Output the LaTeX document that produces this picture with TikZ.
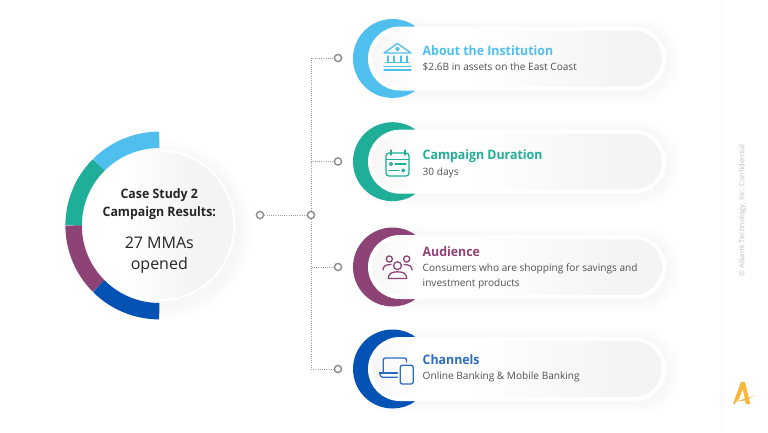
\documentclass[tikz,border=0pt]{standalone}
\usepackage{fontspec}
\setmainfont[BoldFeatures={FakeStretch=0.95}]{Open Sans}
\usetikzlibrary{calc}
\definecolor{cblue}{HTML}{4FC0EE}
\definecolor{cgreen}{HTML}{1FAE97}
\definecolor{cpurple}{HTML}{8E4377}
\definecolor{cnavy}{HTML}{0552B5}
\definecolor{cbody}{HTML}{505050}
\definecolor{cdark}{HTML}{262626}
\definecolor{cpin}{HTML}{8C8C8C}
\definecolor{clogo}{HTML}{F9B43C}
\pgfdeclarehorizontalshading{pillfade}{100bp}{
  color(0bp)=(black!3);
  color(26bp)=(black!3);
  color(33bp)=(white);
  color(42bp)=(white);
  color(68bp)=(black!4.5);
  color(100bp)=(black!4.5)}
\pgfdeclarehorizontalshading{discfade}{100bp}{
  color(0bp)=(white);
  color(38bp)=(white);
  color(62bp)=(black!4.5);
  color(100bp)=(black!4.5)}
\tikzset{
  x=1pt,y=-1pt,
  pin/.style={circle,draw=cpin,fill=white,line width=1.4pt,minimum size=7.2pt,inner sep=0pt},
  dotline/.style={draw=black!38,line width=0.9pt,dash pattern=on 0.9pt off 1.3pt},
  pill/.style={draw=white,line width=4pt,rounded corners=30pt,shading=pillfade,minimum width=294pt,minimum height=60pt,inner sep=0pt},
  titletext/.style={anchor=base west,inner sep=0pt,font=\fontsize{13}{15}\selectfont\bfseries},
  bodytext/.style={anchor=base west,inner sep=0pt,text=cbody,font=\fontsize{10.1}{12}\selectfont},
  disctitle/.style={inner sep=0pt,anchor=base,text=cdark,font=\fontsize{13}{15}\selectfont\bfseries},
  discbody/.style={inner sep=0pt,anchor=base,text=cdark,font=\fontsize{16}{19}\selectfont},
  icon/.style={line width=1.3pt,line cap=round,line join=round}
}
\newcommand{\cardback}[3]{% name, centre y, colour
  \foreach \g in {1,...,7}{
    \fill[black,opacity=0.005,rounded corners=36pt]
      (364-\g*1.4,#2-32-\g*1.2) rectangle (670+\g*1.4,#2+36+\g*1.2);
  }
  \fill[#3] (392.5,#2) ++(56:39.5pt) arc[start angle=56,end angle=304,radius=39.5pt] -- cycle;
  \node[pill] (#1) at (517,#2) {};
}
\begin{document}
\begin{tikzpicture}
\useasboundingbox (0,0) rectangle (768,432);
\fill[white] (0,0) rectangle (768,432);
\draw[black!4,line width=1pt] (721,0) -- (721,432);

% disc with ring
\coordinate (C) at (159.3,225.5);
\foreach \g in {1,...,8}{
  \fill[black,opacity=0.005] (163,230) circle[radius={76pt+\g*1.8pt}];
}
\draw[cblue,line width=16.4pt]  (C) ++(90:85.7pt)  arc[start angle=90,end angle=135,radius=85.7pt];
\draw[cgreen,line width=16.4pt] (C) ++(135:85.7pt) arc[start angle=135,end angle=180,radius=85.7pt];
\draw[cpurple,line width=16.4pt](C) ++(180:85.7pt) arc[start angle=180,end angle=225,radius=85.7pt];
\draw[cnavy,line width=16.4pt]  (C) ++(225:85.7pt) arc[start angle=225,end angle=270,radius=85.7pt];
\node[circle,draw=white,line width=2pt,shading=discfade,minimum size=150pt,inner sep=0pt] (disc) at (C) {};
\node[disctitle] (dt1) at (159.3,198) {Case Study 2};
\node[disctitle] (dt2) at (159.3,216.5) {Campaign Results:};
\node[discbody] (db1) at (159.3,248) {27 MMAs};
\node[discbody] (db2) at (159.3,269.5) {opened};

% cards
\cardback{card1}{58.5}{cblue}
\cardback{card2}{161.7}{cgreen}
\cardback{card3}{267}{cpurple}
\cardback{card4}{369}{cnavy}

% connectors
\node[pin] (src) at (260,215) {};
\node[pin] (hub) at (311,215) {};
\node[pin] (p1) at (338,58) {};
\node[pin] (p2) at (338,161.5) {};
\node[pin] (p3) at (338,267) {};
\node[pin] (p4) at (338,369) {};
\draw[dotline] (src) -- (hub);
\draw[dotline] (hub) |- (p1);
\draw[dotline] (hub) |- (p2);
\draw[dotline] (hub) |- (p3);
\draw[dotline] (hub) |- (p4);

% texts
\node[titletext,text=cblue] (t1) at (422.5,55.2) {About the Institution};
\node[bodytext] (b1) at (422.5,70.6) {\$2.6B in assets on the East Coast};
\node[titletext,text=cgreen] (t2) at (422.5,159.2) {Campaign Duration};
\node[bodytext] (b2) at (422.5,175.8) {30 days};
\node[titletext,text=cpurple] (t3) at (422.5,256.7) {Audience};
\node[bodytext] (b3) at (422.5,271.5) {Consumers who are shopping for savings and};
\node[bodytext] (b3b) at (422.5,286.2) {investment products};
\node[titletext,text=cnavy!85!white] (t4) at (422.5,364.7) {Channels};
\node[bodytext] (b4) at (422.5,379.8) {Online Banking \& Mobile Banking};

% bank icon
\begin{scope}[icon,draw=cblue]
  \draw (384,53) -- (397.5,43.5) -- (411,53) -- cycle;
  \draw (397.5,49) circle[radius=1.6pt];
  \draw (388,56) -- (388,62) (394,56) -- (394,62) (401,56) -- (401,62) (407,56) -- (407,62);
  \draw (386,62.5) -- (409,62.5);
  \draw (384,66.3) -- (411,66.3);
  \draw (384,70) -- (411,70);
\end{scope}
% calendar icon
\begin{scope}[icon,draw=cgreen]
  \draw[rounded corners=3pt] (386,153) rectangle (409,176);
  \draw (386,159.5) -- (409,159.5);
  \draw (391,150) -- (391,155) (405,150) -- (405,155);
  \draw (391,164) circle[radius=1.5pt];
  \draw (395,164) -- (406,164);
  \draw (389,170.5) -- (399,170.5);
  \draw (403.3,170.5) circle[radius=1.5pt];
\end{scope}
% audience icon
\begin{scope}[icon,draw=cpurple]
  \draw (389.3,259) circle[radius=3.1pt];
  \draw (406.7,259) circle[radius=3.1pt];
  \draw (397.5,265.7) circle[radius=3.9pt];
  \draw (383,270) .. controls (383,266) and (386,264.5) .. (391,264.5);
  \draw (412,270) .. controls (412,266) and (409,264.5) .. (404,264.5);
  \draw (388.3,278.5) .. controls (388.3,273.5) and (392,271.8) .. (397.5,271.8)
        .. controls (403,271.8) and (406.7,273.5) .. (406.7,278.5) -- cycle;
\end{scope}
% devices icon
\begin{scope}[icon,draw=cnavy!85!white]
  \draw[rounded corners=2pt] (383.3,373) -- (383.3,358) -- (406.5,358) -- (406.5,362);
  \draw[rounded corners=1pt] (379.5,373) -- (397.5,373);
  \draw[rounded corners=1.5pt] (379.5,373) -- (381,377.3) -- (397.5,377.3);
  \draw[rounded corners=2pt] (400.3,365.3) rectangle (413.2,384);
\end{scope}

% side text and logo
\node[rotate=90,inner sep=0pt,text=black!25,font=\fontsize{7.4}{9}\selectfont] (conf) at (742.5,210.5) {© Alkami Technology, Inc. Confidential};
\fill[clogo] (741,382) -- (745,382) -- (750.2,404) -- (745.8,404) -- (743.6,392.5) -- (742.6,389) -- (739.5,398) -- (734.5,404) -- (733,404) -- cycle;
\fill[clogo] (736,401.5) -- (754.8,395.6) -- (745,400.4) -- cycle;
\end{tikzpicture}
\end{document}
